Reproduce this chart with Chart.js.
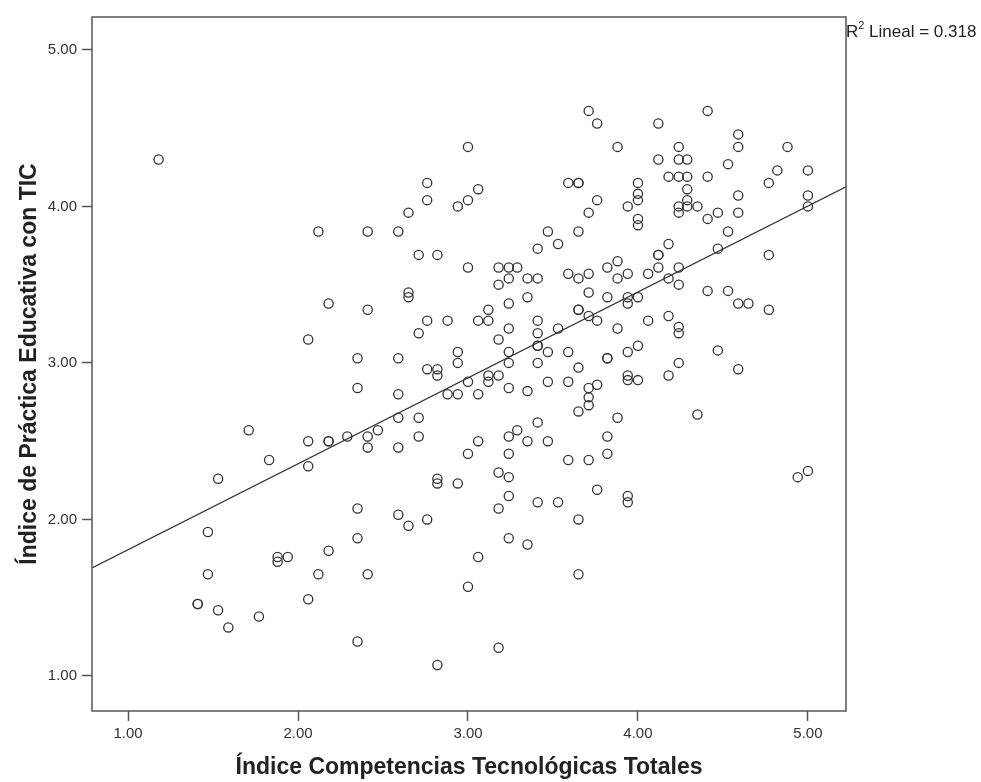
<!DOCTYPE html>
<html lang="es">
<head>
<meta charset="utf-8">
<title>Dispersión TIC</title>
<script src="https://cdn.jsdelivr.net/npm/chart.js@4.4.1/dist/chart.umd.min.js"></script>
<style>
    html, body { margin: 0; padding: 0; background: #fff; }
    #chart { display: block; }
</style>
</head>
<body>
<canvas id="chart" width="981" height="782"></canvas>
<script>
// --- DATOS ---
const xTicks = [1, 2, 3, 4, 5];
const yTicks = [1, 2, 3, 4, 5];
const xRange = [0.788, 5.224];
const yRange = [0.776, 5.21];

// Índice Competencias Tecnológicas Totales
const xValues = [
    1.18, 1.71, 1.83, 1.53, 1.47, 1.88, 1.88, 1.94, 1.47, 1.41, 1.41, 1.53, 1.59, 1.77,
    3.00, 2.76, 2.76, 3.06, 3.00, 2.94, 2.65, 2.12, 2.41, 2.59, 2.71, 2.82, 3.00, 2.65,
    2.65, 2.18, 2.41, 2.76, 2.88, 3.06, 3.12, 2.71, 2.06, 2.35, 2.59, 2.94, 2.94, 2.76,
    2.82, 2.82, 3.00, 3.12, 2.35, 2.59, 2.88, 2.94, 3.06, 2.59, 2.71, 2.47, 2.41, 2.29,
    2.18, 2.18, 2.06, 2.71, 2.41, 2.59, 2.06, 3.06, 3.00, 2.82, 2.82, 2.94, 2.35, 2.59,
    2.65, 2.76, 2.35, 2.18, 2.12, 2.41, 2.06, 2.35, 2.82, 3.06, 3.00,
    3.71, 3.76, 4.12, 3.88, 4.24, 4.12, 4.24, 4.18, 4.24, 4.00, 3.59, 3.65, 3.65, 4.00,
    4.00, 3.94, 3.76, 3.71, 4.24, 4.24, 4.00, 4.00, 3.47, 3.65, 3.53, 3.41, 4.18, 4.12,
    4.12, 3.18, 3.24, 3.29, 3.24, 3.18, 3.35, 3.41, 3.59, 3.65, 3.71, 3.82, 3.88, 3.94,
    3.88, 4.06, 4.12, 4.24, 4.18, 4.24, 3.71, 3.35, 3.24, 3.82, 3.94, 3.94, 4.00, 3.65,
    3.65, 3.71, 3.76, 3.12, 3.41, 3.41, 3.24, 3.53, 3.88, 4.06, 4.18, 4.24, 4.24, 3.18,
    3.41, 3.41, 3.24, 3.47, 3.59, 3.82, 3.82, 3.94, 4.00, 3.24, 3.41, 3.65, 4.24,
    4.41, 4.59, 4.59, 4.88, 4.29, 4.29, 4.29, 4.29, 4.29, 4.35, 4.41, 4.41, 4.47, 4.53,
    4.59, 4.59, 4.77, 4.82, 5.00, 5.00, 5.00, 4.53, 4.47, 4.77, 4.41, 4.53, 4.59, 4.65,
    4.77, 4.35, 4.47, 4.59, 4.94, 5.00,
    3.12, 3.18, 3.24, 3.29, 3.35, 3.47, 3.59, 3.71, 3.71, 3.76, 3.65, 3.71, 3.94, 3.94,
    4.00, 3.88, 3.82, 3.82, 3.24, 3.35, 3.47, 3.41, 3.24, 3.59, 3.71, 3.18, 3.24, 3.24,
    3.18, 3.41, 3.53, 3.76, 3.94, 3.94, 3.24, 3.35, 3.65, 3.65, 3.18, 4.18
];

// Índice de Práctica Educativa con TIC
const yValues = [
    4.30, 2.57, 2.38, 2.26, 1.92, 1.76, 1.73, 1.76, 1.65, 1.46, 1.46, 1.42, 1.31, 1.38,
    4.38, 4.15, 4.04, 4.11, 4.04, 4.00, 3.96, 3.84, 3.84, 3.84, 3.69, 3.69, 3.61, 3.45,
    3.42, 3.38, 3.34, 3.27, 3.27, 3.27, 3.34, 3.19, 3.15, 3.03, 3.03, 3.07, 3.00, 2.96,
    2.96, 2.92, 2.88, 2.88, 2.84, 2.80, 2.80, 2.80, 2.80, 2.65, 2.65, 2.57, 2.53, 2.53,
    2.50, 2.50, 2.50, 2.53, 2.46, 2.46, 2.34, 2.50, 2.42, 2.26, 2.23, 2.23, 2.07, 2.03,
    1.96, 2.00, 1.88, 1.80, 1.65, 1.65, 1.49, 1.22, 1.07, 1.76, 1.57,
    4.61, 4.53, 4.53, 4.38, 4.38, 4.30, 4.30, 4.19, 4.19, 4.15, 4.15, 4.15, 4.15, 4.08,
    4.04, 4.00, 4.04, 3.96, 4.00, 3.96, 3.92, 3.88, 3.84, 3.84, 3.76, 3.73, 3.76, 3.69,
    3.69, 3.61, 3.61, 3.61, 3.54, 3.50, 3.54, 3.54, 3.57, 3.54, 3.57, 3.61, 3.65, 3.57,
    3.54, 3.57, 3.61, 3.61, 3.54, 3.50, 3.45, 3.42, 3.38, 3.42, 3.42, 3.38, 3.42, 3.34,
    3.34, 3.30, 3.27, 3.27, 3.27, 3.19, 3.22, 3.22, 3.22, 3.27, 3.30, 3.23, 3.19, 3.15,
    3.11, 3.11, 3.07, 3.07, 3.07, 3.03, 3.03, 3.07, 3.11, 3.00, 3.00, 2.97, 3.00,
    4.61, 4.46, 4.38, 4.38, 4.30, 4.19, 4.11, 4.04, 4.00, 4.00, 4.19, 3.92, 3.96, 4.27,
    4.07, 3.96, 4.15, 4.23, 4.23, 4.07, 4.00, 3.84, 3.73, 3.69, 3.46, 3.46, 3.38, 3.38,
    3.34, 2.67, 3.08, 2.96, 2.27, 2.31,
    2.92, 2.92, 2.84, 2.57, 2.82, 2.88, 2.88, 2.84, 2.78, 2.86, 2.69, 2.73, 2.89, 2.92,
    2.89, 2.65, 2.53, 2.42, 2.53, 2.50, 2.50, 2.62, 2.42, 2.38, 2.38, 2.30, 2.27, 2.15,
    2.07, 2.11, 2.11, 2.19, 2.15, 2.11, 1.88, 1.84, 2.00, 1.65, 1.18, 2.92
];

// Recta de ajuste lineal
const fitIntercept = 1.257;
const fitSlope = 0.549;
const rSquared = '0.318';

const points = xValues.map((x, i) => ({ x: x, y: yValues[i] }));
const fitLine = xRange.map(x => ({ x: x, y: fitIntercept + fitSlope * x }));

const textColor = '#222';
const frameColor = '#555';
const fontFamily = '"Liberation Sans", Arial, sans-serif';

// Marco del gráfico + etiqueta R²
const framePlugin = {
    id: 'frame',
    afterDraw(chart) {
        const { ctx, chartArea } = chart;
        ctx.save();
        ctx.strokeStyle = frameColor;
        ctx.lineWidth = 1.5;
        ctx.strokeRect(chartArea.left, chartArea.top, chartArea.right - chartArea.left, chartArea.bottom - chartArea.top);

        ctx.fillStyle = textColor;
        ctx.textBaseline = 'alphabetic';
        ctx.textAlign = 'left';
        const x0 = chartArea.right + 0;
        const base = 37;
        ctx.font = '17px ' + fontFamily;
        ctx.fillText('R', x0, base);
        const rw = ctx.measureText('R').width;
        ctx.font = '11px ' + fontFamily;
        ctx.fillText('2', x0 + rw, base - 8);
        const sw = ctx.measureText('2').width;
        ctx.font = '17px ' + fontFamily;
        ctx.fillText(' Lineal = ' + rSquared, x0 + rw + sw, base);
        ctx.restore();
    }
};

const ctx = document.getElementById('chart').getContext('2d');

new Chart(ctx, {
    type: 'scatter',
    data: {
        datasets: [
            {
                label: 'Datos',
                data: points,
                pointStyle: 'circle',
                pointRadius: 4.6,
                pointBorderWidth: 1.3,
                pointBorderColor: '#333',
                pointBackgroundColor: 'rgba(0,0,0,0)',
                order: 2
            },
            {
                type: 'line',
                label: 'Lineal',
                data: fitLine,
                borderColor: '#333',
                borderWidth: 1.2,
                pointRadius: 0,
                fill: false,
                order: 1
            }
        ]
    },
    options: {
        responsive: false,
        animation: false,
        devicePixelRatio: 1,
        layout: { padding: { left: 0, top: 17, right: 135, bottom: 0 } },
        plugins: {
            legend: { display: false },
            tooltip: { enabled: false }
        },
        scales: {
            x: {
                type: 'linear',
                min: xRange[0],
                max: xRange[1],
                afterBuildTicks: scale => { scale.ticks = xTicks.map(v => ({ value: v })); },
                afterFit: scale => { scale.height = 71; },
                border: { display: false },
                grid: { drawOnChartArea: false, drawTicks: true, tickLength: 10, tickColor: frameColor, tickWidth: 1.5 },
                ticks: {
                    padding: 4,
                    color: '#333',
                    font: { family: fontFamily, size: 15 },
                    callback: v => Number(v).toFixed(2)
                },
                title: {
                    display: true,
                    text: 'Índice Competencias Tecnológicas Totales',
                    color: textColor,
                    font: { family: fontFamily, size: 23, weight: 'bold' },
                    padding: { top: 0, bottom: 1 }
                }
            },
            y: {
                type: 'linear',
                min: yRange[0],
                max: yRange[1],
                afterBuildTicks: scale => { scale.ticks = yTicks.map(v => ({ value: v })); },
                afterFit: scale => { scale.width = 92; },
                border: { display: false },
                grid: { drawOnChartArea: false, drawTicks: true, tickLength: 10, tickColor: frameColor, tickWidth: 1.5 },
                ticks: {
                    padding: 5,
                    color: '#333',
                    font: { family: fontFamily, size: 15 },
                    callback: v => Number(v).toFixed(2)
                },
                title: {
                    display: true,
                    text: 'Índice de Práctica Educativa con TIC',
                    color: textColor,
                    font: { family: fontFamily, size: 23, weight: 'bold' },
                    padding: { top: 16, bottom: 0 }
                }
            }
        }
    },
    plugins: [framePlugin]
});
</script>
</body>
</html>
